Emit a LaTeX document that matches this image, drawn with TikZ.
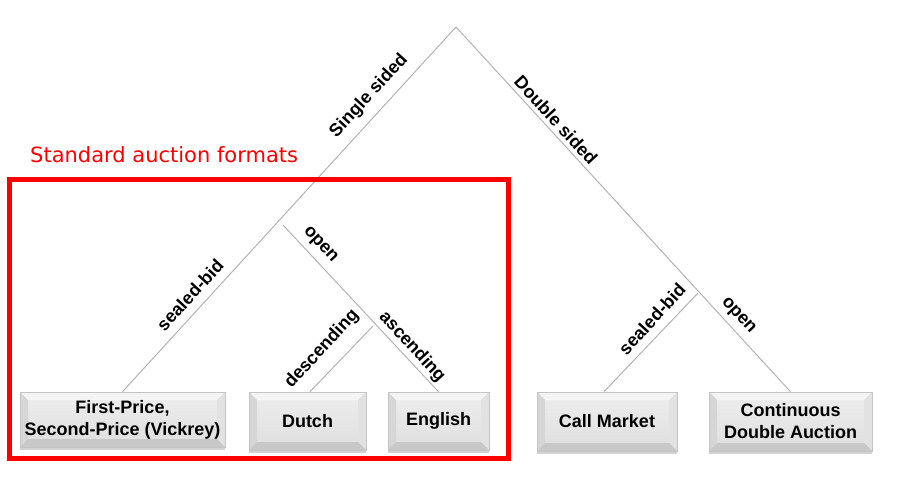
\documentclass[tikz,border=0pt]{standalone}
\usepackage{fontspec}
\setmainfont{Liberation Sans}
\newfontfamily\dejavu{DejaVu Sans}
\usetikzlibrary{shadows}
\definecolor{lnc}{RGB}{180,180,180}
\definecolor{bvtop}{RGB}{244,244,244}
\definecolor{bvleft}{RGB}{214,214,214}
\definecolor{bvright}{RGB}{226,226,226}
\definecolor{bvbot}{RGB}{200,200,200}
\definecolor{facetop}{RGB}{238,238,238}
\definecolor{facebot}{RGB}{222,222,222}
\definecolor{bvedge}{RGB}{196,196,196}
\begin{document}
\begin{tikzpicture}[x=1pt,y=-1pt,
  conn/.style={draw=lnc, line width=1pt},
  lbl/.style={font=\fontsize{18}{21}\selectfont\bfseries, inner sep=0pt},
  bev/.style={draw=bvedge, line width=0.6pt, inner sep=0pt, align=center,
    top color=facetop, bottom color=facebot,
    font=\fontsize{18}{22}\selectfont\bfseries,
    drop shadow={shadow xshift=0pt, shadow yshift=-3pt, opacity=0.35, fill=gray},
    path picture={
      \fill[bvtop] (path picture bounding box.north west) -- (path picture bounding box.north east)
        -- ([xshift=-8pt,yshift=-8pt]path picture bounding box.north east)
        -- ([xshift=8pt,yshift=-8pt]path picture bounding box.north west) -- cycle;
      \fill[bvleft] (path picture bounding box.north west) -- ([xshift=8pt,yshift=-8pt]path picture bounding box.north west)
        -- ([xshift=8pt,yshift=8pt]path picture bounding box.south west)
        -- (path picture bounding box.south west) -- cycle;
      \fill[bvright] (path picture bounding box.north east) -- ([xshift=-8pt,yshift=-8pt]path picture bounding box.north east)
        -- ([xshift=-8pt,yshift=8pt]path picture bounding box.south east)
        -- (path picture bounding box.south east) -- cycle;
      \fill[bvbot] (path picture bounding box.south west) -- ([xshift=8pt,yshift=8pt]path picture bounding box.south west)
        -- ([xshift=-8pt,yshift=8pt]path picture bounding box.south east)
        -- (path picture bounding box.south east) -- cycle;
    }}]
\useasboundingbox (0,0) rectangle (899,490);
\fill[white] (0,0) rectangle (899,490);

% junction points
\coordinate (root) at (456,27);
\coordinate (jo) at (283,225);
\coordinate (jd) at (373,326);
\coordinate (jr) at (698,293);

% leaf boxes
\node[bev, minimum width=205pt, minimum height=55pt] (fp) at (122.5,419.5) {First-Price,\\Second-Price (Vickrey)};
\node[bev, minimum width=117pt, minimum height=58pt] (du) at (307.5,421) {Dutch};
\node[bev, minimum width=101pt, minimum height=58pt] (en) at (438.5,421) {English};
\node[bev, minimum width=140pt, minimum height=59pt] (cm) at (607,421.5) {Call Market};
\node[bev, minimum width=163pt, minimum height=59pt] (cda) at (790.5,421.5) {Continuous\\Double Auction};

% connectors
\draw[conn] (root) -- (fp.north);
\draw[conn] (root) -- (cda.north);
\draw[conn] (jo) -- (en.north);
\draw[conn] (jd) -- ([xshift=2.5pt]du.north);
\draw[conn] (jr) -- ([xshift=-3pt]cm.north);

% labels
\node[lbl, rotate=47.5] (l1) at (369,96) {Single sided};
\node[lbl, rotate=-47.5] (l2) at (556,120) {Double sided};
\node[lbl, rotate=47.5] (l3) at (190,295) {sealed-bid};
\node[lbl, rotate=-47.5] (l4) at (320,245) {open};
\node[lbl, rotate=47.5] (l5) at (322,349) {descending};
\node[lbl, rotate=-47.5] (l6) at (412,347) {ascending};
\node[lbl, rotate=47.5] (l7) at (652,319) {sealed-bid};
\node[lbl, rotate=-47.5] (l8) at (738,316) {open};

% standard formats frame
\draw[red, line width=5pt] (9.5,179.5) rectangle (508.5,458.5);
\node[anchor=base west, inner sep=0pt, text=red, font=\dejavu\fontsize{21}{25}\selectfont] (std) at (30,162) {Standard auction formats};
\end{tikzpicture}
\end{document}
